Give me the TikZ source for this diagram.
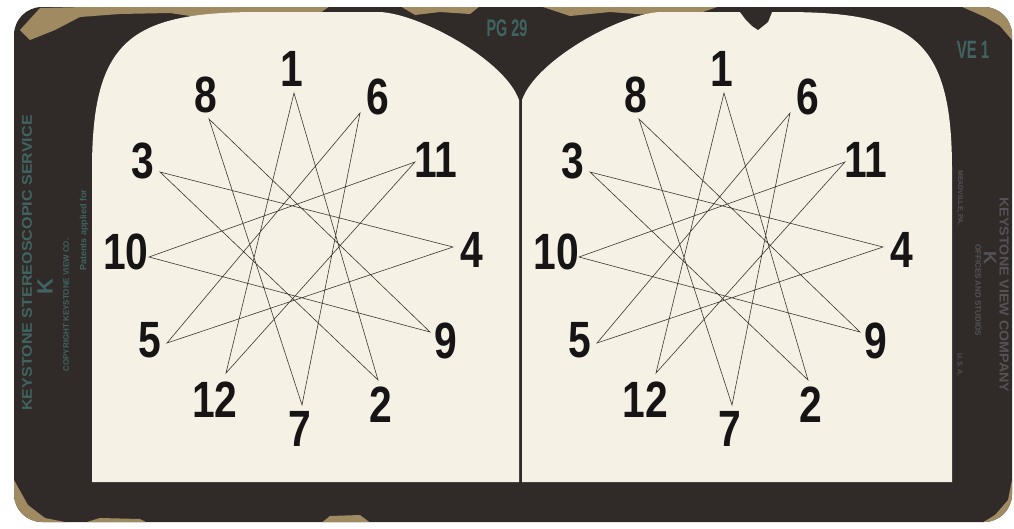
\documentclass[tikz,border=0pt]{standalone}
\usepackage{fontspec}
\usepackage{graphicx}
\setmainfont{Liberation Sans}
\definecolor{cardc}{RGB}{48,43,41}
\definecolor{panelc}{RGB}{245,241,228}
\definecolor{inkc}{RGB}{22,20,20}
\definecolor{linec}{RGB}{60,55,52}
\definecolor{tealc}{RGB}{64,100,97}
\definecolor{greyc}{RGB}{84,82,86}
\definecolor{tanc}{RGB}{160,138,98}
\newcommand{\dg}[1]{\scalebox{0.8}[1]{#1}}
\tikzset{
  num/.style={inner sep=0pt, text=inkc, font=\fontsize{51}{51}\selectfont\bfseries},
  starline/.style={draw=linec, line width=0.6pt, line join=miter},
  sidetext/.style={inner sep=0pt, text=tealc, font=\bfseries},
  paneltext/.style={inner sep=0pt, text=tealc, font=\bfseries},
}
\begin{document}
\begin{tikzpicture}[x=1pt,y=-1pt]
\useasboundingbox (0,0) rectangle (1014,528);
\fill[white] (0,0) rectangle (1014,528);
% card
\fill[cardc, rounded corners=28pt] (14,7) rectangle (1012,522);
% worn edges
\begin{scope}
\clip[rounded corners=28pt] (14,7) rectangle (1012,522);
\fill[tanc] (20,30) -- (40,8) -- (130,6) -- (200,6) -- (330,6) -- (320,13) -- (285,17) -- (255,13) -- (210,19) -- (170,13) -- (120,14) -- (80,17) -- (55,30) -- (30,40) -- cycle;
\fill[tanc] (400,6) -- (480,6) -- (470,14) -- (440,12) -- (415,15) -- cycle;
\fill[tanc] (540,6) -- (720,6) -- (700,13) -- (650,15) -- (610,12) -- (570,16) -- cycle;
\fill[tanc] (960,6) -- (1012,6) -- (1012,40) -- (1000,26) -- (985,17) -- cycle;
\fill[tanc] (14,480) -- (28,505) -- (45,518) -- (75,524) -- (14,524) -- cycle;
\fill[tanc] (320,524) -- (330,516) -- (360,515) -- (372,524) -- cycle;
\fill[tanc] (80,524) -- (100,518) -- (140,519) -- (150,524) -- cycle;
\fill[tanc] (1014,470) -- (1008,500) -- (995,515) -- (980,524) -- (1014,524) -- cycle;
\end{scope}
% panels
\fill[panelc] (92,482) -- (92,170) .. controls (92,40) and (130,12) .. (260,12)
  -- (380,12) .. controls (420,14) and (505,60) .. (519,100) -- (519,482) -- cycle;
\fill[panelc] (522,482) -- (522,100) .. controls (536,60) and (620,14) .. (660,12)
  -- (784,12) .. controls (914,12) and (952,40) .. (952,170) -- (952,482) -- cycle;
% small tear on right panel
\fill[cardc] (740,12) -- (772,12) -- (768,22) -- (758,30) -- (752,26) -- (746,20) -- cycle;
% panel texts
\node[paneltext, font=\fontsize{24}{24}\selectfont\bfseries] (pg) at (507,28) {\scalebox{0.6}[1]{PG 29}};
\node[paneltext, font=\fontsize{25}{25}\selectfont\bfseries] (ve) at (973,50) {\scalebox{0.6}[1]{VE 1}};
% left side texts
\node[sidetext, rotate=90, font=\fontsize{14}{14}\selectfont\bfseries] (ks) at (27,263) {\scalebox{1.15}[1]{KEYSTONE STEREOSCOPIC SERVICE}};
\node[sidetext, rotate=90, font=\fontsize{22}{22}\selectfont\bfseries] (kl) at (45,287) {K};
\node[sidetext, rotate=90, font=\fontsize{8}{8}\selectfont\bfseries] (cp) at (66,305) {COPYRIGHT KEYSTONE VIEW CO.};
\node[sidetext, rotate=90, font=\fontsize{9}{9}\selectfont\bfseries] (pa) at (84,230) {Patents applied for};
% right side texts
\node[sidetext, text=greyc, rotate=-90, font=\fontsize{13}{13}\selectfont\bfseries] (kv) at (1004,295) {\scalebox{1.1}[1]{KEYSTONE VIEW COMPANY}};
\node[sidetext, text=greyc, rotate=-90, font=\fontsize{18}{18}\selectfont\bfseries] (kr) at (990,258) {K};
\node[sidetext, text=greyc, rotate=-90, font=\fontsize{8}{8}\selectfont\bfseries] (os) at (978,290) {OFFICES AND STUDIOS};
\node[sidetext, text=greyc, rotate=-90, font=\fontsize{7}{7}\selectfont\bfseries] (mv) at (960,198) {MEADVILLE, PA.};
\node[sidetext, text=greyc, rotate=-90, font=\fontsize{7}{7}\selectfont\bfseries] (us) at (960,365) {U.\,S.\,A.};
% the two star figures
\foreach \s/\dx in {L/0,R/430}{
  \begin{scope}[xshift=\dx pt]
    \coordinate (\s p1) at (294,93);
    \coordinate (\s p2) at (378,380);
    \coordinate (\s p3) at (160,172);
    \coordinate (\s p4) at (453,247);
    \coordinate (\s p5) at (167,343);
    \coordinate (\s p6) at (360,113);
    \coordinate (\s p7) at (302,405);
    \coordinate (\s p8) at (209,119);
    \coordinate (\s p9) at (430,332);
    \coordinate (\s p10) at (149,257);
    \coordinate (\s p11) at (415,162);
    \coordinate (\s p12) at (226,373);
    \draw[starline] (\s p1) -- (\s p2) -- (\s p3) -- (\s p4) -- (\s p5) -- (\s p6)
      -- (\s p7) -- (\s p8) -- (\s p9) -- (\s p10) -- (\s p11) -- (\s p12) -- cycle;
    \node[num] (\s n1) at (292,69) {\dg{1}};
    \node[num] (\s n2) at (381,405) {\dg{2}};
    \node[num] (\s n3) at (143,161) {\dg{3}};
    \node[num] (\s n4) at (472,250) {\dg{4}};
    \node[num] (\s n5) at (150,340) {\dg{5}};
    \node[num] (\s n6) at (378,97) {\dg{6}};
    \node[num] (\s n7) at (300,429) {\dg{7}};
    \node[num] (\s n8) at (206,95) {\dg{8}};
    \node[num] (\s n9) at (446,341) {\dg{9}};
    \node[num] (\s n10) at (126,252) {\dg{10}};
    \node[num] (\s n11) at (436,160) {\dg{11}};
    \node[num] (\s n12) at (215,400) {\dg{12}};
  \end{scope}
}
\end{tikzpicture}
\end{document}
